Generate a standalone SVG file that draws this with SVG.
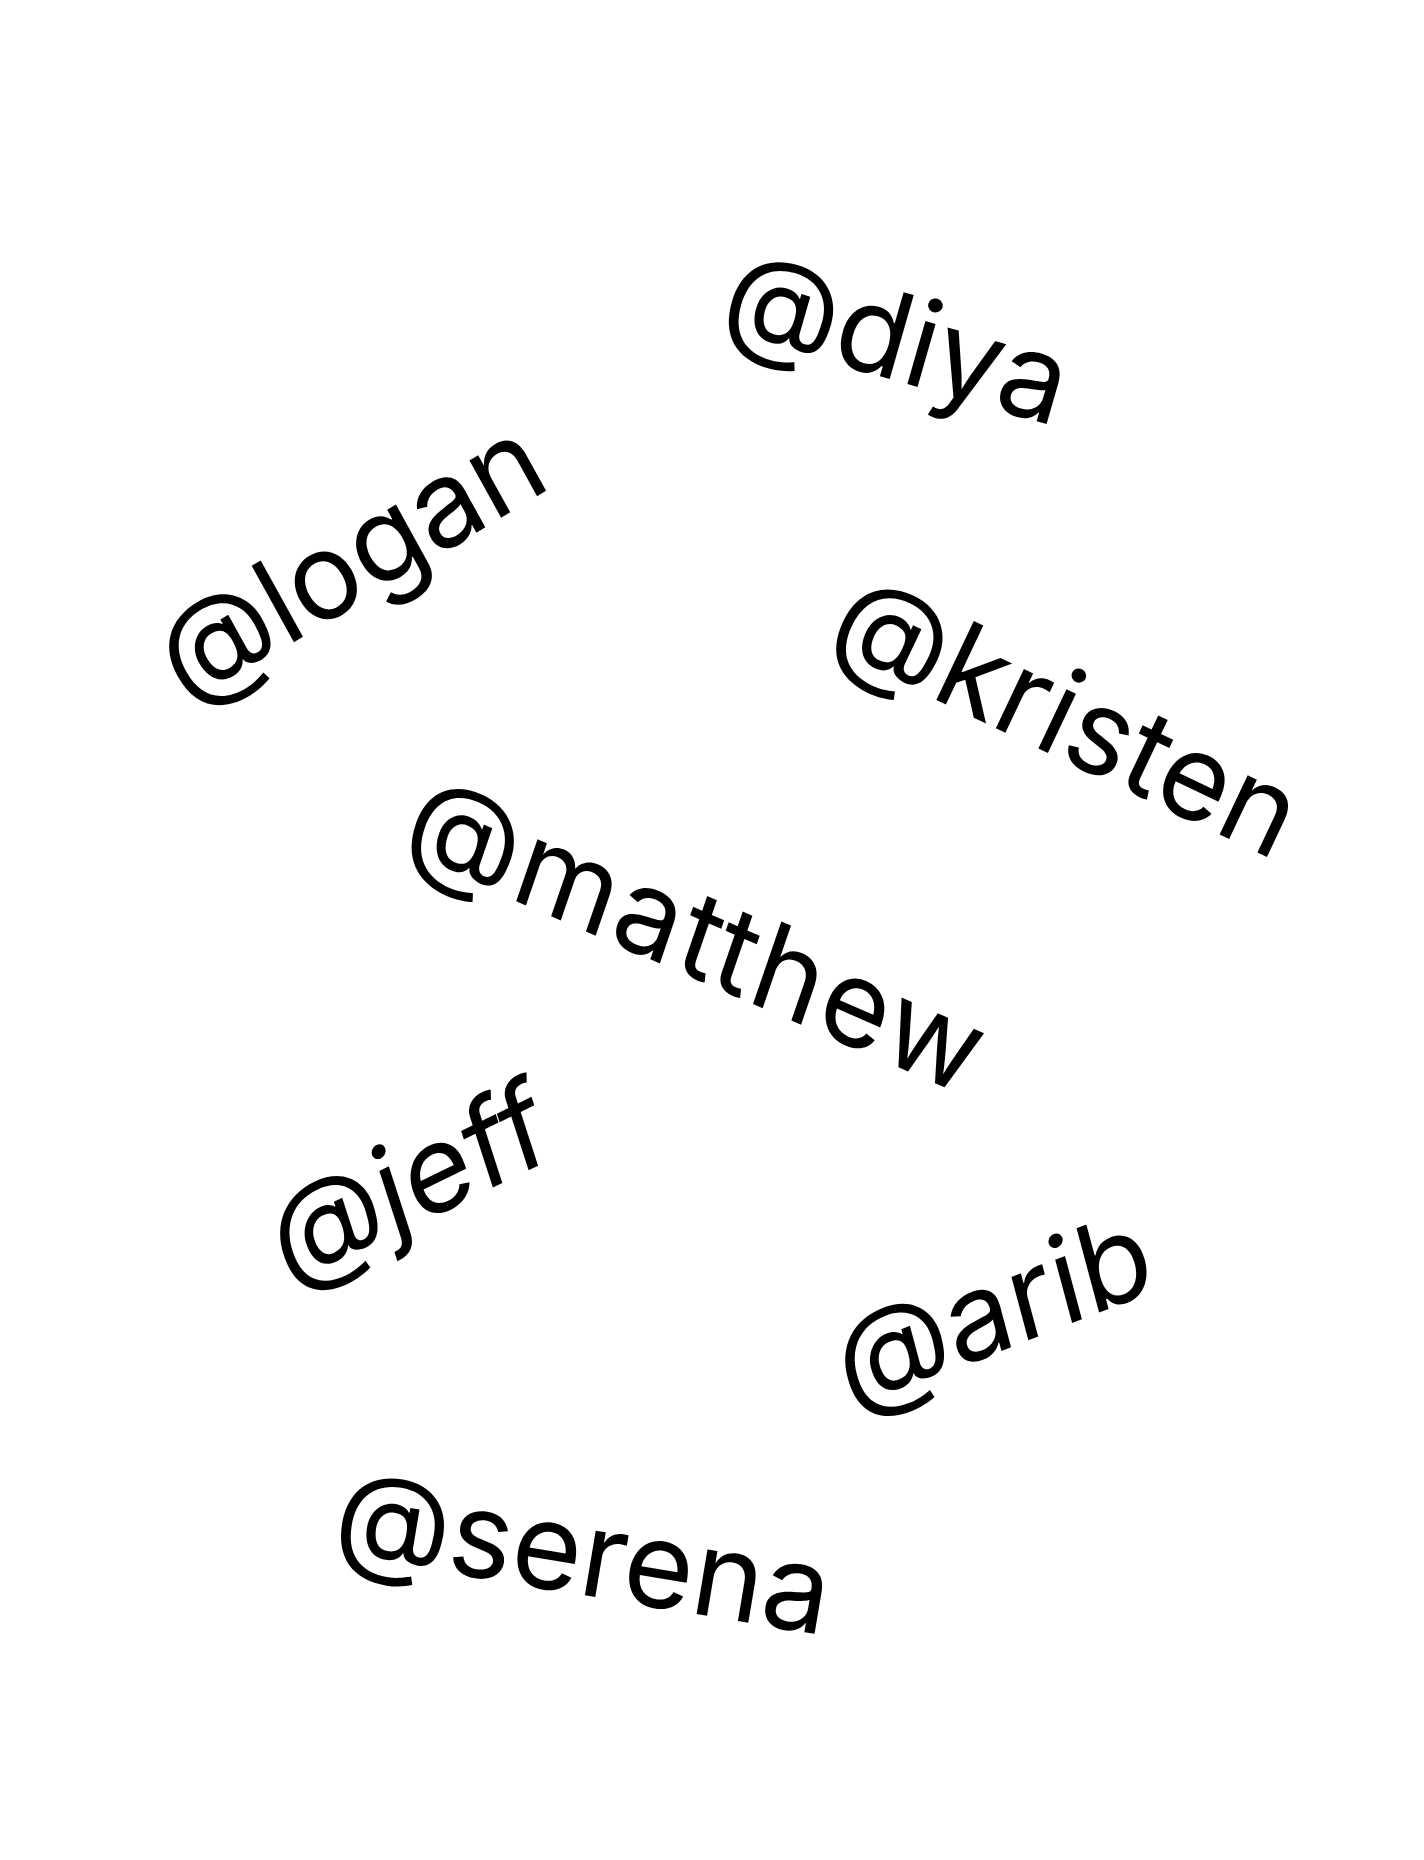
<svg xmlns="http://www.w3.org/2000/svg" width="1424" height="1860" viewBox="0 0 1424 1860">
<style>
.h{font-family:Inter,"Noto Sans","Liberation Sans",sans-serif;font-size:120px;fill:#000;text-anchor:middle}
</style>
<rect width="1424" height="1860" fill="#fff"/>
<g id="diya"><text class="h" transform="translate(886,378) rotate(16)">@diya</text></g>
<g id="logan"><text class="h" transform="matrix(.8572,-.5150,.4848,.8746,370.3,596.4)">@logan</text></g>
<g id="kristen"><text class="h" transform="translate(1049.3,753.6) rotate(25.4)">@kristen</text></g>
<g id="matthew"><text class="h" letter-spacing="2.5" transform="matrix(.9171,.3987,-.3256,.9455,684,974)">@matthew</text></g>
<g id="jeff"><text class="h" transform="matrix(.8988,-.4384,.3090,.9511,421.5,1222.5)">@jeff</text></g>
<g id="arib"><text class="h" transform="matrix(.9304,-.3665,.2588,.9659,1004,1350)">@arib</text></g>
<g id="serena"><text class="h" transform="translate(576.9,1594) rotate(9.5)">@serena</text></g>
</svg>
